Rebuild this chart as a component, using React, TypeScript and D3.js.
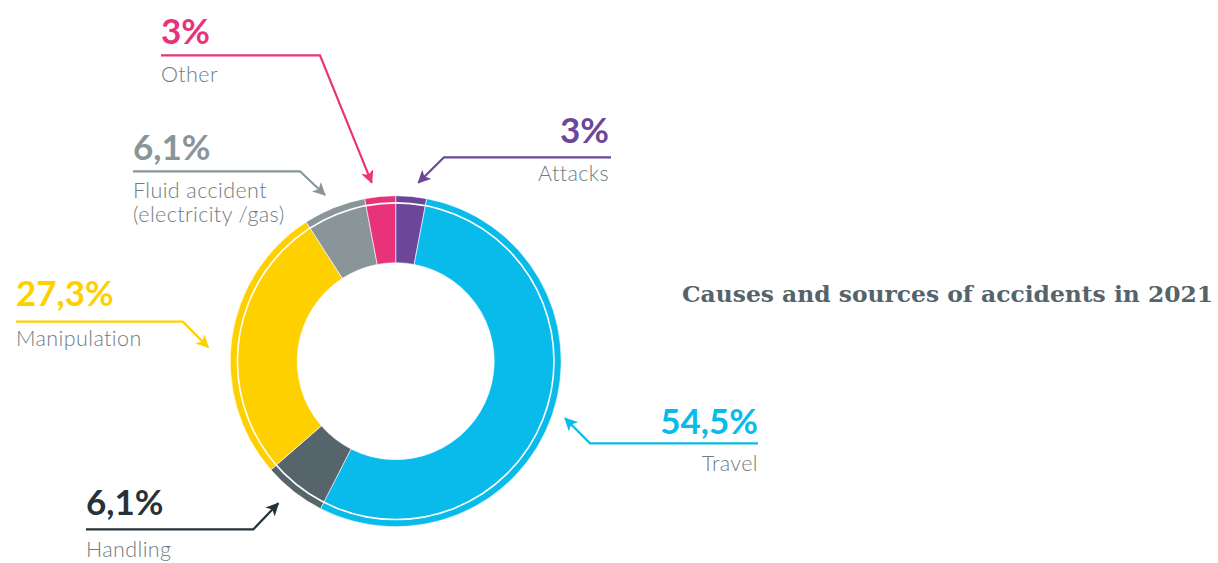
import React from "react";
import * as d3 from "d3";

const categories = ["Attacks", "Travel", "Handling", "Manipulation", "Fluid accident", "Other"];
const values = [3, 54.5, 6.1, 27.3, 6.1, 3];
const valueLabels = ["3%", "54,5%", "6,1%", "27,3%", "6,1%", "3%"];
const colors = ["#6C4698", "#08BBEB", "#56646B", "#FFD000", "#8A959A", "#E8337A"];
const pctColors = ["#6C4698", "#08BBEB", "#263238", "#FFD000", "#8A959A", "#E8337A"];
const subLabels = [["Attacks"], ["Travel"], ["Handling"], ["Manipulation"], ["Fluid accident", "(electricity /gas)"], ["Other"]];
const title = "Causes and sources of accidents in 2021";

// layout of annotations (anchor, baselines, leader path)
const annos = [
  { x: 609, anchor: "end", pctY: 143, subY: 181, path: [[611, 157.3], [444, 157.3], [418.3, 182.7]] },
  { x: 758, anchor: "end", pctY: 434, subY: 471, path: [[758, 443.3], [590, 443.3], [565, 418.3]] },
  { x: 86, anchor: "start", pctY: 515, subY: 557, path: [[86, 529.3], [253.3, 529.3], [278.3, 503.3]] },
  { x: 16, anchor: "start", pctY: 306, subY: 346, path: [[16, 321.7], [182.7, 321.7], [208.3, 347.3]] },
  { x: 133, anchor: "start", pctY: 160, subY: 198, path: [[133, 171.3], [300, 171.3], [325, 195]] },
  { x: 161, anchor: "start", pctY: 44, subY: 81.5, path: [[161, 55.3], [320, 55.3], [371.7, 182.7]] },
];

const cx = 395.7;
const cy = 361.2;
const rInner = 98.5;
const rOuter = 165.5;
const rGap = 158.3;

export default function App() {
  const pie = d3.pie<number>().sort(null).value((d) => d).startAngle(0).endAngle(2 * Math.PI);
  const arcs = pie(values);
  const arc = d3.arc<d3.PieArcDatum<number>>().innerRadius(rInner).outerRadius(rOuter);
  const line = d3.line();
  const sansFont = "Lato, 'Noto Sans', sans-serif";

  return (
    <svg
      width={1218}
      height={563}
      style={{ position: "absolute", left: 0, top: 0, background: "#fff" }}
    >
      <defs>
        {colors.map((c, i) => (
          <marker
            key={i}
            id={`arrow${i}`}
            viewBox="0 0 12 12"
            refX={11}
            refY={6}
            markerWidth={13}
            markerHeight={13}
            markerUnits="userSpaceOnUse"
            orient="auto"
          >
            <path d="M0,0 L12,6 L0,12 L3,6 Z" fill={pctColors[i]} />
          </marker>
        ))}
      </defs>
      <g transform={`translate(${cx},${cy})`}>
        {arcs.map((a, i) => (
          <path key={i} d={arc(a) || ""} fill={colors[i]} stroke="#fff" strokeWidth={0.6} />
        ))}
        <circle r={rGap} fill="none" stroke="#fff" strokeWidth={1.6} />
      </g>
      {annos.map((an, i) => {
        const pctW = valueLabels[i].length * 0;
        return (
          <g key={i}>
            <path
              d={line(an.path as [number, number][]) || ""}
              fill="none"
              stroke={pctColors[i]}
              strokeWidth={2.2}
              markerEnd={`url(#arrow${i})`}
            />
            <text
              x={an.x + pctW}
              y={an.pctY}
              textAnchor={an.anchor}
              fill={pctColors[i]}
              fontFamily={sansFont}
              fontWeight={700}
              fontSize={35}
            >
              {valueLabels[i]}
            </text>
            {subLabels[i].map((s, j) => (
              <text
                key={j}
                x={an.x}
                y={an.subY + j * 24}
                textAnchor={an.anchor}
                fill="#6F7C83"
                fontFamily={sansFont}
                fontWeight={300}
                fontSize={21.5}
                letterSpacing={0.4}
              >
                {s}
              </text>
            ))}
          </g>
        );
      })}
      <text
        x={1213}
        y={302}
        textAnchor="end"
        fill="#55636A"
        fontFamily="'DejaVu Serif', Georgia, serif"
        fontWeight={700}
        fontSize={23}
        textLength={531}
        lengthAdjust="spacingAndGlyphs"
      >
        {title}
      </text>
      <title>{categories.join(", ")}</title>
    </svg>
  );
}
